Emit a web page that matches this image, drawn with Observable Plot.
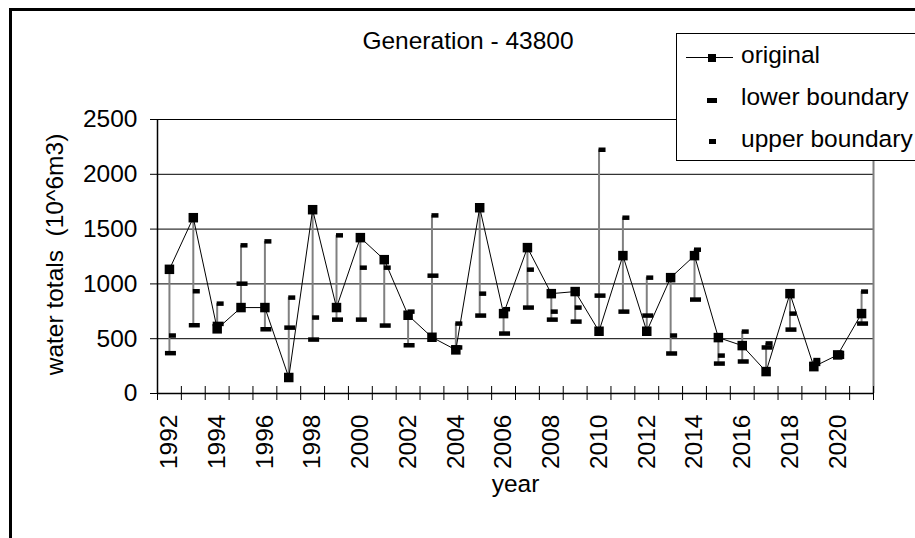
<!DOCTYPE html>
<html><head><meta charset="utf-8">
<script src="https://cdn.jsdelivr.net/npm/d3@7"></script>
<script src="https://cdn.jsdelivr.net/npm/@observablehq/plot@0.6"></script>
<style>
html,body{margin:0;padding:0;background:#fff;}
#wrap{position:relative;width:915px;height:538px;overflow:hidden;font-family:"Liberation Sans",Arial,sans-serif;color:#000;}
#chart{position:absolute;left:0;top:0;}
#frame{position:absolute;left:9px;top:8px;width:1000px;height:1000px;border:3px solid #000;box-sizing:border-box;pointer-events:none;}
#title{position:absolute;left:9px;width:918px;top:29px;text-align:center;font-size:24.5px;line-height:1;white-space:nowrap;}
#legend{position:absolute;left:676px;top:33px;width:300px;height:128px;border:1px solid #000;background:#fff;box-sizing:border-box;}
#legend .t{position:absolute;left:64px;font-size:24.5px;line-height:1;white-space:nowrap;}
#legend .m{position:absolute;background:#000;}
</style>
</head><body>
<div id="wrap">
  <div id="chart"></div>
  <div id="frame"></div>
  <div id="title">Generation - 43800</div>
  <div id="legend">
    <div class="m" style="left:9px;top:23px;width:47px;height:1px;"></div>
    <div class="m" style="left:31px;top:19.5px;width:8px;height:8px;"></div>
    <div class="t" style="top:8.6px;">original</div>
    <div class="m" style="left:30px;top:64px;width:10px;height:4.5px;"></div>
    <div class="t" style="top:51.3px;">lower boundary</div>
    <div class="m" style="left:32px;top:105px;width:7px;height:5px;"></div>
    <div class="t" style="top:93.3px;">upper boundary</div>
  </div>
</div>
<script>
const years = [1992,1993,1994,1995,1996,1997,1998,1999,2000,2001,2002,2003,2004,2005,2006,2007,2008,2009,2010,2011,2012,2013,2014,2015,2016,2017,2018,2019,2020,2021];
const original = [1133,1604,590,784,784,146,1677,784,1422,1221,714,513,398,1695,729,1331,911,930,568,1258,568,1057,1258,510,437,200,911,245,352,729];
const lower = [368,623,635,1002,586,601,492,674,674,620,440,1075,420,711,547,784,674,656,893,747,711,365,857,273,292,420,583,270,335,638];
const upper = [529,933,820,1352,1388,875,693,1443,1148,1148,747,1625,638,911,769,1130,747,784,2224,1604,1057,529,1312,346,565,457,729,305,370,930];
const yTicks = [0,500,1000,1500,2000,2500];
const xTickLabels = [1992,1994,1996,1998,2000,2002,2004,2006,2008,2010,2012,2014,2016,2018,2020];
const yTitle = "water totals \u00a0(10^6m3)";
const xTitle = "year";

const rows = years.map((year, i) => ({year, original: original[i], lower: lower[i], upper: upper[i]}));
const bounds = [years[0] - 0.5, ...years.map(y => y + 0.5)];
const rect = (w, h) => ({draw(ctx) {
  ctx.moveTo(-w / 2, -h / 2); ctx.lineTo(w / 2, -h / 2); ctx.lineTo(w / 2, h / 2); ctx.lineTo(-w / 2, h / 2); ctx.closePath();
}});

const chart = Plot.plot({
  width: 915, height: 538,
  marginLeft: 157, marginRight: 42, marginTop: 119, marginBottom: 145,
  style: {fontFamily: '"Liberation Sans", Arial, sans-serif', fontSize: "24.5px", background: "transparent", color: "#000", overflow: "visible"},
  x: {type: "linear", domain: [years[0] - 0.5, years[years.length - 1] + 0.5]},
  y: {domain: [0, 2500]},
  marks: [
    Plot.gridY(yTicks, {stroke: "#000", strokeOpacity: 1, strokeWidth: 1}),
    Plot.ruleX(rows, {x: "year", y1: d => Math.min(d.original, d.lower, d.upper), y2: d => Math.max(d.original, d.lower, d.upper), stroke: "#808080", strokeWidth: 2}),
    Plot.ruleX([bounds[bounds.length - 1]], {stroke: "#808080", strokeWidth: 2}),
    Plot.ruleX([bounds[0]], {stroke: "#000", strokeWidth: 1.5}),
    Plot.ruleY([0], {stroke: "#000", strokeWidth: 1.5}),
    Plot.ruleX(bounds, {x: d => d, y1: () => 0, y2: () => 0, insetTop: 7, insetBottom: 7, stroke: "#000", strokeWidth: 1}),
    Plot.axisY(yTicks, {tickSize: 7, tickPadding: 13, label: null, tickFormat: d => String(d)}),
    Plot.axisX(xTickLabels, {tickSize: 0, tickRotate: -90, tickPadding: 21, label: null, tickFormat: d => String(d)}),
    Plot.line(rows, {x: "year", y: "original", stroke: "#000", strokeWidth: 1}),
    Plot.dot(rows, {x: "year", y: "lower", symbol: rect(11, 4.5), fill: "#000", dx: 1}),
    Plot.dot(rows, {x: "year", y: "upper", symbol: rect(7, 4.5), fill: "#000", dx: 3}),
    Plot.dot(rows, {x: "year", y: "original", symbol: rect(9.5, 9.5), fill: "#000"}),
    Plot.text([yTitle], {text: d => d, frameAnchor: "left", textAnchor: "middle", rotate: -90, dx: -102, dy: -2}),
    Plot.text([xTitle], {text: d => d, frameAnchor: "bottom", textAnchor: "middle", dy: 98})
  ]
});
document.getElementById("chart").appendChild(chart);
</script>
</body></html>
